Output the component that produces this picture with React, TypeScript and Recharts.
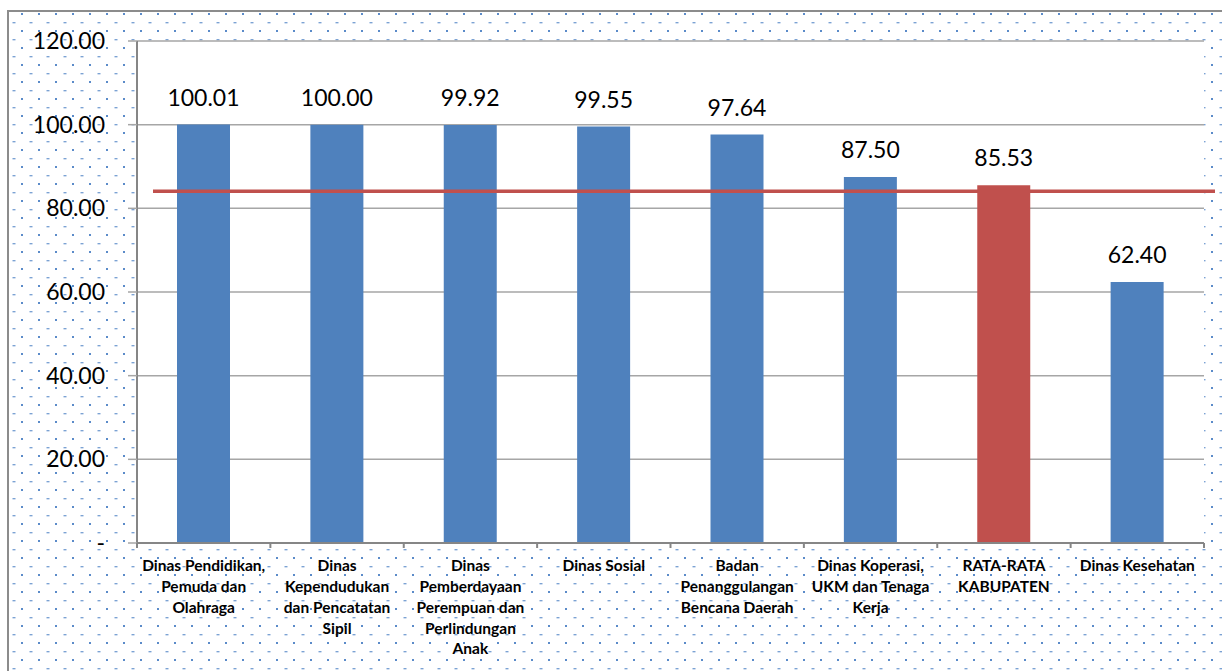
import React from 'react';
import { BarChart, Bar, XAxis, YAxis, CartesianGrid, ReferenceLine, LabelList, Cell } from 'recharts';

const categories = [
  'Dinas Pendidikan, Pemuda dan Olahraga',
  'Dinas Kependudukan dan Pencatatan Sipil',
  'Dinas Pemberdayaan Perempuan dan Perlindungan Anak',
  'Dinas Sosial',
  'Badan Penanggulangan Bencana Daerah',
  'Dinas Koperasi, UKM dan Tenaga Kerja',
  'RATA-RATA KABUPATEN',
  'Dinas Kesehatan',
];

const values = [100.01, 100.0, 99.92, 99.55, 97.64, 87.5, 85.53, 62.4];

const labelLines = [
  ['Dinas Pendidikan,', 'Pemuda dan', 'Olahraga'],
  ['Dinas', 'Kependudukan', 'dan Pencatatan', 'Sipil'],
  ['Dinas', 'Pemberdayaan', 'Perempuan dan', 'Perlindungan', 'Anak'],
  ['Dinas Sosial'],
  ['Badan', 'Penanggulangan', 'Bencana Daerah'],
  ['Dinas Koperasi,', 'UKM dan Tenaga', 'Kerja'],
  ['RATA-RATA', 'KABUPATEN'],
  ['Dinas Kesehatan'],
];

const yTicks = [0, 20, 40, 60, 80, 100, 120];
const averageLine = 84.1;
const highlightCategory = 'RATA-RATA KABUPATEN';

const data = categories.map((name, i) => ({ name, value: values[i] }));

const W = 1222;
const H = 671;
const PLOT_LEFT = 137;
const PLOT_RIGHT = 1204;
const PLOT_TOP = 41;
const PLOT_BOTTOM = 543;
const BAND = (PLOT_RIGHT - PLOT_LEFT) / categories.length;

const FONT = "Lato, 'Open Sans', sans-serif";
const AXIS_GRAY = '#868686';
const BLUE = '#4F81BD';
const RED = '#C0504D';

const dotsSvg =
  "<svg xmlns='http://www.w3.org/2000/svg' width='17' height='17'>" +
  "<rect x='12' y='1' width='2' height='2' fill='#5b8bc9'/>" +
  "<rect x='3.5' y='10.2' width='3' height='1.1' fill='#5b8bc9'/>" +
  '</svg>';
const dotsUrl = `url("data:image/svg+xml,${encodeURIComponent(dotsSvg)}")`;

const XTick = (props: any) => {
  const { x, y, payload, index } = props;
  const idx = typeof index === 'number' ? index : categories.indexOf(payload.value);
  const lines = labelLines[idx] ?? [String(payload.value)];
  return (
    <g>
      <line x1={x - BAND / 2} x2={x - BAND / 2} y1={y} y2={y + 5} stroke={AXIS_GRAY} strokeWidth={2} />
      {idx === categories.length - 1 && (
        <line x1={x + BAND / 2} x2={x + BAND / 2} y1={y} y2={y + 5} stroke={AXIS_GRAY} strokeWidth={2} />
      )}
      <text x={x} y={y + 23} textAnchor="middle" fontFamily={FONT} fontWeight={700} fontSize={15.5} fill="#000">
        {lines.map((l, i) => (
          <tspan key={i} x={x} dy={i === 0 ? '0.35em' : 20.7}>
            {l}
          </tspan>
        ))}
      </text>
    </g>
  );
};

export default function App() {
  return (
    <div style={{ position: 'absolute', left: 0, top: 0, width: W, height: H, overflow: 'hidden', background: '#fff' }}>
      <div
        style={{
          position: 'absolute',
          left: 7,
          top: 10,
          width: 1240,
          height: 700,
          border: '2px solid #8c8c8c',
          boxSizing: 'border-box',
          backgroundImage: dotsUrl,
          backgroundRepeat: 'repeat',
        }}
      />
      <div style={{ position: 'absolute', left: 0, top: 0 }}>
        <BarChart
          width={W}
          height={H}
          data={data}
          margin={{ top: PLOT_TOP, right: W - PLOT_RIGHT, bottom: 0, left: 0 }}
        >
          <CartesianGrid vertical={false} stroke="#a6a6a6" strokeWidth={1.5} fill="#fff" fillOpacity={1} />
          <XAxis
            dataKey="name"
            height={H - PLOT_BOTTOM}
            interval={0}
            tickSize={0}
            tickMargin={0}
            tickLine={false}
            axisLine={{ stroke: AXIS_GRAY, strokeWidth: 2 }}
            tick={<XTick />}
          />
          <YAxis
            width={PLOT_LEFT}
            domain={[0, 120]}
            ticks={yTicks}
            interval={0}
            tickSize={9}
            tickMargin={23}
            axisLine={{ stroke: AXIS_GRAY, strokeWidth: 2 }}
            tickLine={{ stroke: '#a6a6a6', strokeWidth: 1.5 }}
            tick={{ fontFamily: FONT, fontSize: 23, fill: '#000' }}
            tickFormatter={(v: number) => (v === 0 ? '-' : v.toFixed(2))}
          />
          <Bar dataKey="value" barSize={53} isAnimationActive={false}>
            {data.map((d, i) => (
              <Cell key={i} fill={d.name === highlightCategory ? RED : BLUE} />
            ))}
            <LabelList
              dataKey="value"
              position="top"
              offset={19}
              formatter={(v: any) => Number(v).toFixed(2)}
              fontFamily={FONT}
              fontSize={23}
              fill="#000"
            />
          </Bar>
          <ReferenceLine
            y={averageLine}
            stroke={RED}
            strokeWidth={3.5}
            shape={(p: any) => (
              <line x1={p.x1 + 16} y1={p.y1} x2={p.x2 + 11} y2={p.y2} stroke={RED} strokeWidth={3.5} />
            )}
          />
        </BarChart>
      </div>
    </div>
  );
}
